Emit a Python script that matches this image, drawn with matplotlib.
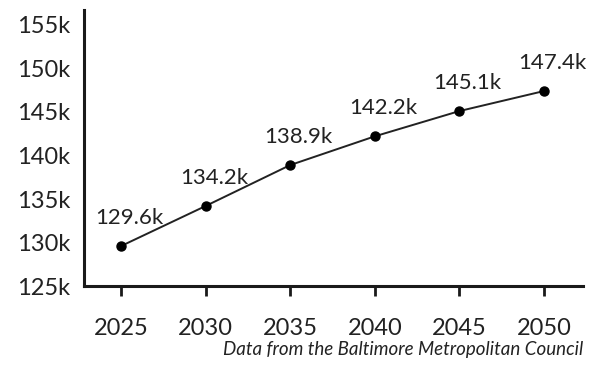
import matplotlib.pyplot as plt

# population projection
years = [2025, 2030, 2035, 2040, 2045, 2050]
population_k = [129.6, 134.2, 138.9, 142.2, 145.1, 147.4]
y_ticks = [125, 130, 135, 140, 145, 150, 155]
y_tick_labels = ['125k', '130k', '135k', '140k', '145k', '150k', '155k']
source_note = 'Data from the Baltimore Metropolitan Council'

plt.rcParams['font.family'] = ['Lato', 'DejaVu Sans']

fig = plt.figure(figsize=(5.99, 3.73), dpi=100)
ax = fig.add_axes([0.140, 0.233, 0.833, 0.740])

ax.plot(years, population_k, color='#222222', linewidth=1.4,
        marker='o', markersize=6.5, markerfacecolor='black', markeredgecolor='black')

# value labels above each point
for x, y in zip(years, population_k):
    ax.annotate(f'{y:.1f}k', (x, y), xytext=(6, 13), textcoords='offset points',
                ha='center', va='bottom', fontsize=16, color='#222222')

ax.set_xlim(2022.8, 2052.3)
ax.set_ylim(125, 156.7)
ax.set_xticks(years)
ax.set_xticklabels([str(y) for y in years])
ax.set_yticks(y_ticks)
ax.set_yticklabels(y_tick_labels)

for side in ['top', 'right']:
    ax.spines[side].set_visible(False)
for side in ['left', 'bottom']:
    ax.spines[side].set_linewidth(2.2)
    ax.spines[side].set_color('#1a1a1a')

ax.tick_params(axis='x', length=7, width=2, color='#1a1a1a', pad=16,
               labelsize=17, labelcolor='#222222')
ax.tick_params(axis='y', length=0, pad=10, labelsize=17, labelcolor='#222222')

fig.text(0.973, 0.04, source_note, ha='right', va='bottom',
         fontsize=13.5, style='italic', color='#222222')

fig.savefig('out.png', dpi=100)
